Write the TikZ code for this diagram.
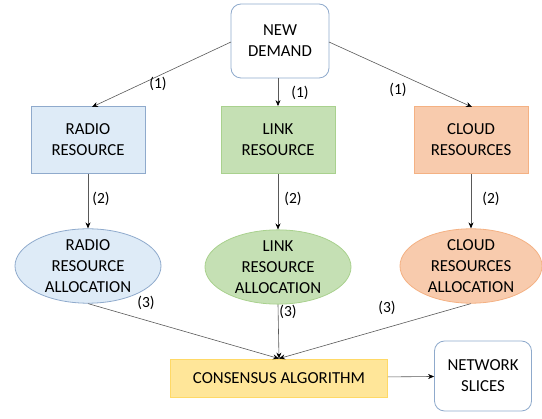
\documentclass[tikz,border=0pt]{standalone}
\usepackage{fontspec}
\setmainfont{Carlito}
\usetikzlibrary{shapes.geometric,arrows.meta}
\definecolor{radiofill}{HTML}{DEEBF7}
\definecolor{radioline}{HTML}{8FAACC}
\definecolor{linkfill}{HTML}{C5E0B4}
\definecolor{linkline}{HTML}{A9D18E}
\definecolor{cloudfill}{HTML}{F8CBAD}
\definecolor{cloudline}{HTML}{F4B183}
\definecolor{consfill}{HTML}{FFE699}
\definecolor{consline}{HTML}{FFD966}
\definecolor{whiteline}{HTML}{8FAACC}
\definecolor{arrowcol}{HTML}{595959}
\tikzset{
  txt/.style={font=\fontsize{16.8}{20.8}\selectfont, align=center, text=black},
  rbox/.style={txt, draw=whiteline, fill=white, rounded corners=10pt, line width=0.8pt},
  resbox/.style={txt, draw, line width=0.8pt, minimum width=114pt, minimum height=67pt},
  resell/.style={txt, ellipse, draw, line width=0.8pt, minimum width=146pt, minimum height=66pt, inner sep=0pt},
  conn/.style={draw=arrowcol, line width=0.6pt, -{Stealth[length=6pt,width=5pt,black]}},
  lbl/.style={font=\fontsize{15.5}{17}\selectfont, text=black}
}
\begin{document}
\begin{tikzpicture}[x=1pt,y=-1pt]
\useasboundingbox (0,0) rectangle (542,419);
\node[rbox, minimum width=98pt, minimum height=74pt] (nd) at (280,41) {NEW\\DEMAND};
\node[resbox, draw=radioline, fill=radiofill] (rr) at (88,140) {RADIO\\RESOURCE};
\node[resbox, draw=linkline, fill=linkfill] (lr) at (278,140) {LINK\\RESOURCE};
\node[resbox, draw=cloudline, fill=cloudfill] (cr) at (471,140) {CLOUD\\RESOURCES};
\node[resell, draw=radioline, fill=radiofill] (ra) at (88,266) {RADIO\\RESOURCE\\ALLOCATION};
\node[resell, draw=linkline, fill=linkfill] (la) at (278,267) {LINK\\RESOURCE\\ALLOCATION};
\node[resell, draw=cloudline, fill=cloudfill, minimum width=142pt] (ca) at (471,266) {CLOUD\\RESOURCES\\ALLOCATION};
\node[txt, draw=consline, fill=consfill, line width=0.8pt, minimum width=217pt, minimum height=38pt] (cons) at (279,378) {CONSENSUS ALGORITHM};
\node[rbox, minimum width=97pt, minimum height=70pt] (ns) at (483,376) {NETWORK\\SLICES};
\coordinate (ndl) at (231,42);
\coordinate (ndr) at (329,42);
\draw[conn] (ndl) -- (92,107);
\draw[conn] (nd.south -| lr.north) -- (lr.north);
\draw[conn] (ndr) -- (472,107);
\draw[conn] (rr) -- (ra);
\draw[conn] (lr) -- (la);
\draw[conn] (cr) -- (ca);
\draw[conn] (ra.south) -- (cons.north);
\draw[conn] (la.south) -- (cons.north);
\draw[conn] (ca.south) -- (cons.north);
\draw[conn] (cons) -- (ns);
\node[lbl] (l1a) at (158,84) {(1)};
\node[lbl] (l1b) at (300,93) {(1)};
\node[lbl] (l1c) at (398,90) {(1)};
\node[lbl] (l2a) at (101,199) {(2)};
\node[lbl] (l2b) at (293,199) {(2)};
\node[lbl] (l2c) at (491,199) {(2)};
\node[lbl] (l3a) at (146,303) {(3)};
\node[lbl] (l3b) at (288,312) {(3)};
\node[lbl] (l3c) at (387,308) {(3)};
\end{tikzpicture}
\end{document}
